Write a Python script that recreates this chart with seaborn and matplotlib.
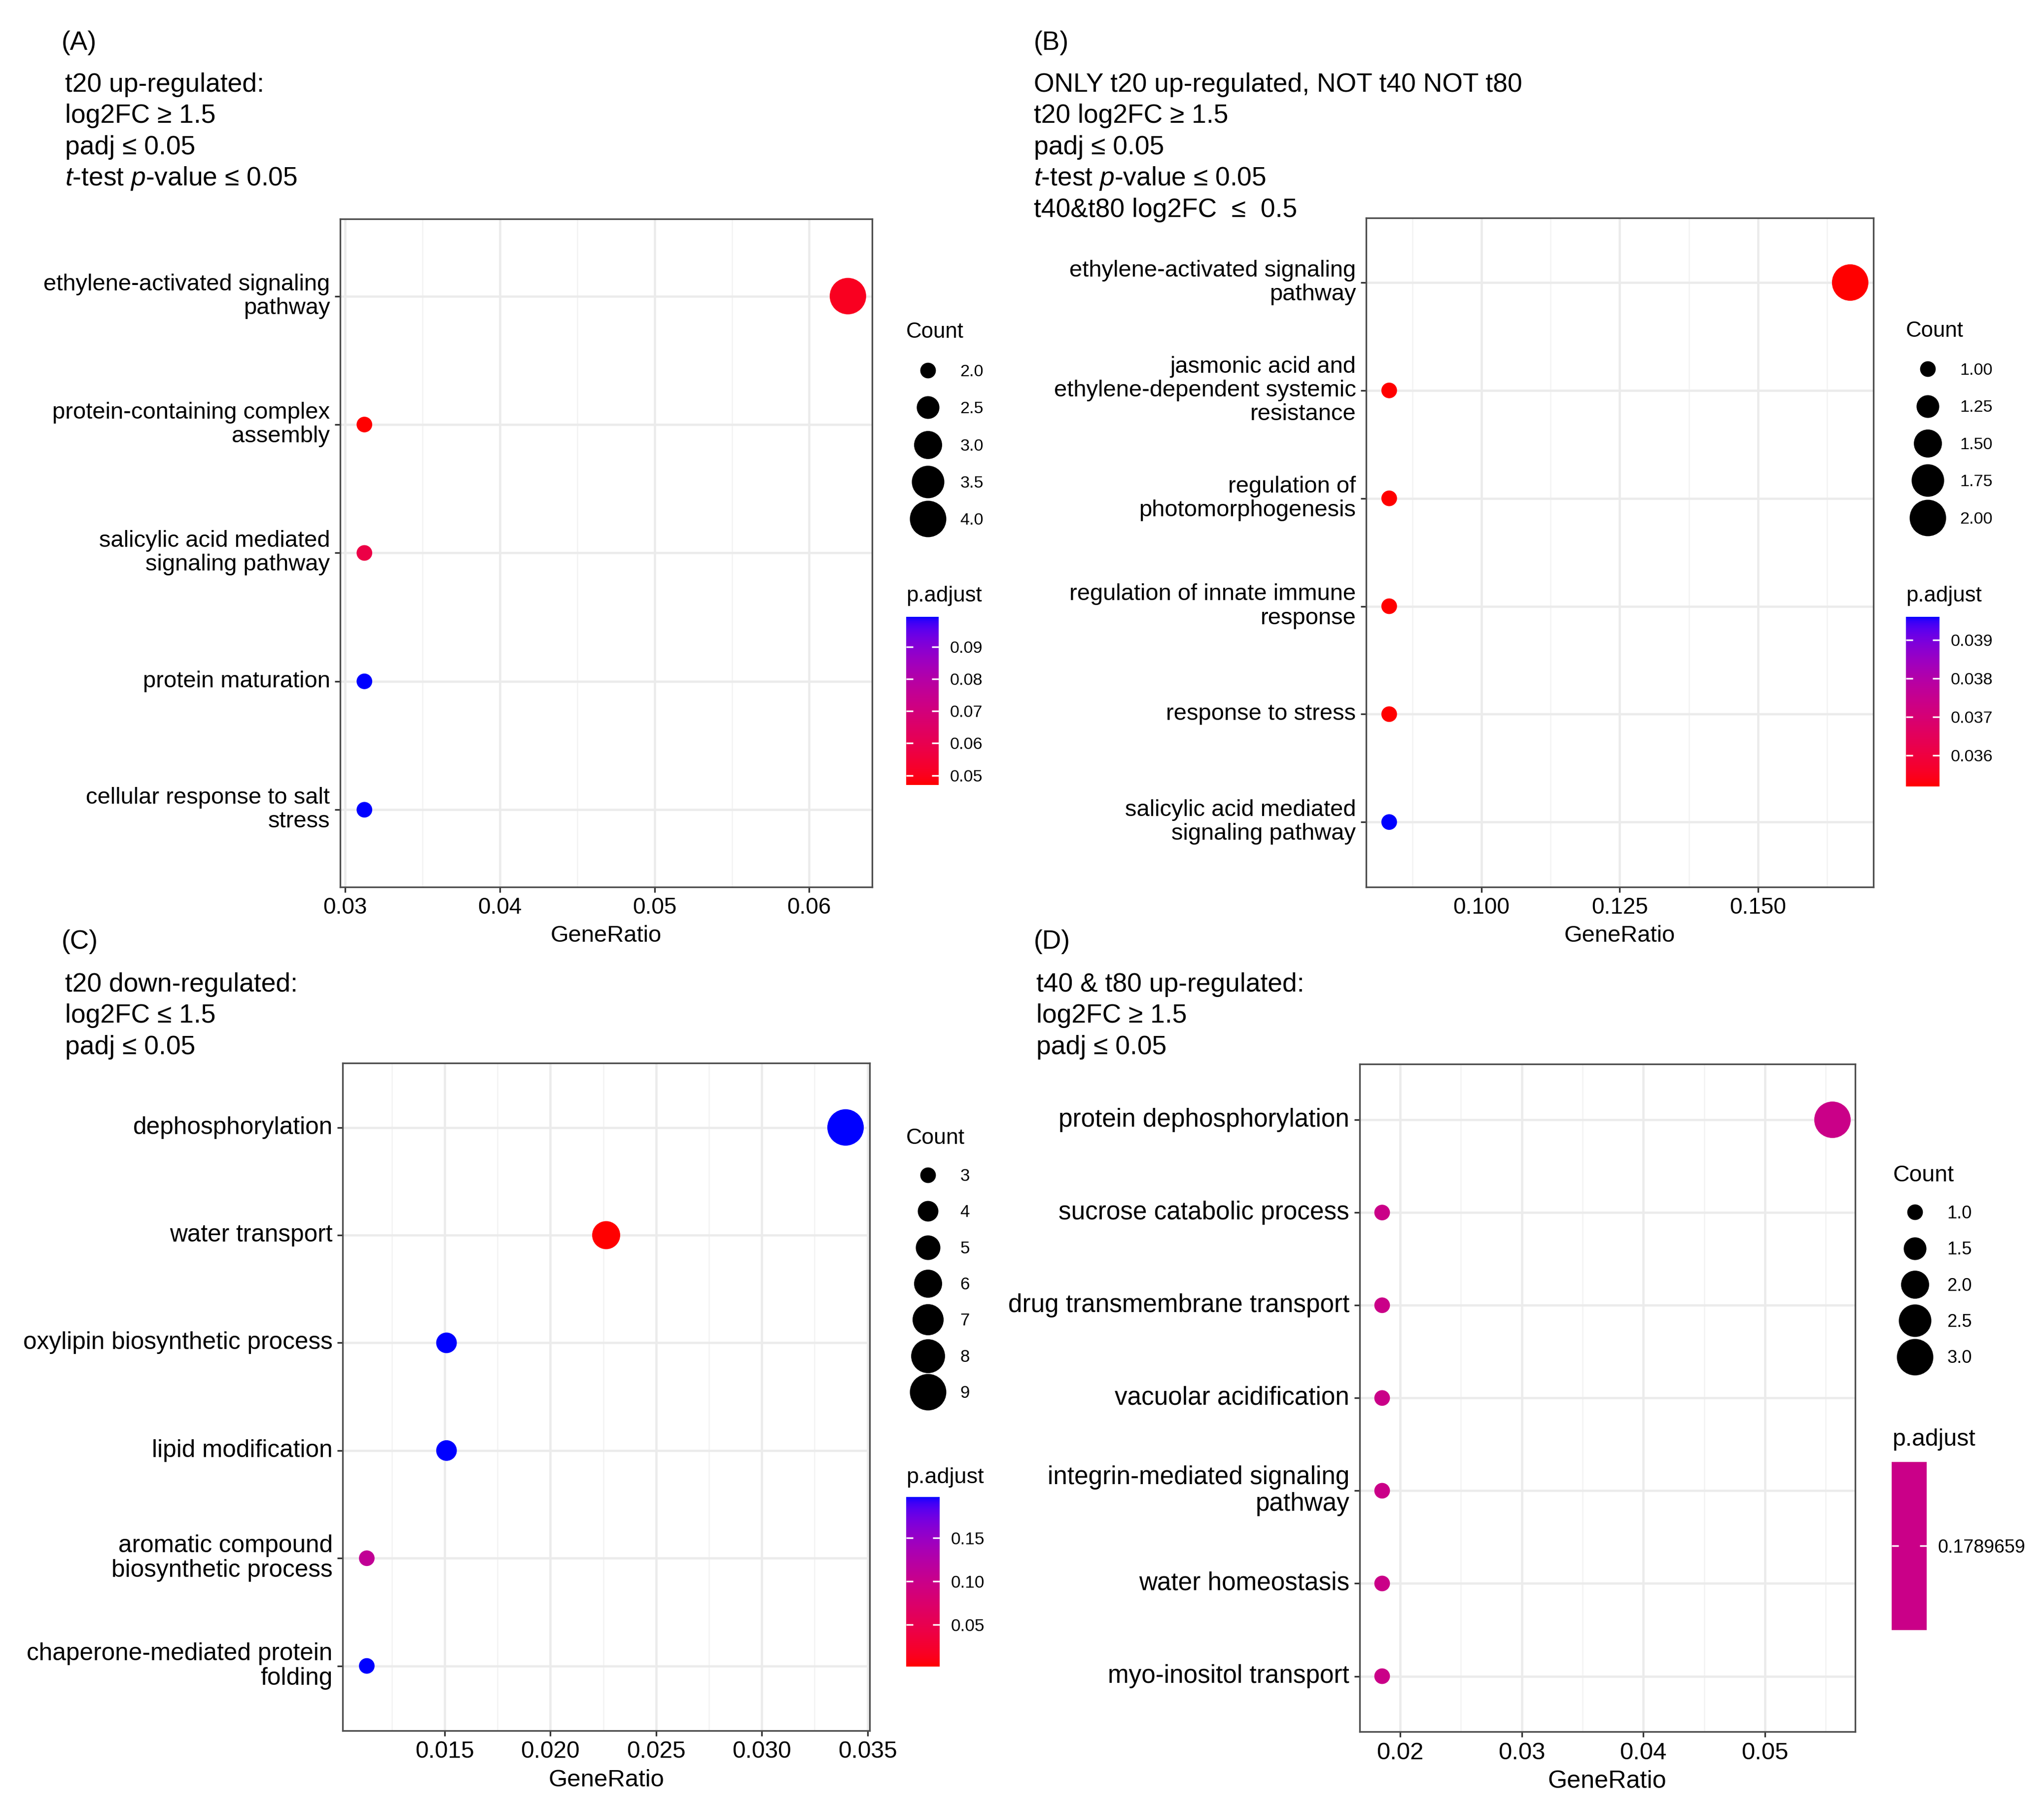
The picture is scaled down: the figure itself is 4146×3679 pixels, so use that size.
import numpy as np
import pandas as pd
import matplotlib
matplotlib.use("Agg")
import matplotlib.pyplot as plt
import seaborn as sns
from matplotlib.colors import ListedColormap, Normalize
from matplotlib.ticker import MultipleLocator, AutoMinorLocator, FormatStrFormatter
from matplotlib.lines import Line2D
from matplotlib.cm import ScalarMappable

# ---------------- data ----------------
descA = ["ethylene-activated signaling\npathway", "protein-containing complex\nassembly",
         "salicylic acid mediated\nsignaling pathway", "protein maturation",
         "cellular response to salt\nstress"]
ratioA = [0.0625, 0.03125, 0.03125, 0.03125, 0.03125]
countA = [4, 2, 2, 2, 2]
padjA = [0.0505, 0.0470, 0.0580, 0.0993, 0.0993]
legA_vals = [2.0, 2.5, 3.0, 3.5, 4.0]
legA_labels = ["2.0", "2.5", "3.0", "3.5", "4.0"]
cbA_ticks = [0.05, 0.06, 0.07, 0.08, 0.09]
titleA = ["t20 up-regulated:", "log2FC \u2265 1.5", "padj \u2264 0.05",
          "$\\mathit{t}$-test $\\mathit{p}$-value \u2264 0.05"]

descB = ["ethylene-activated signaling\npathway",
         "jasmonic acid and\nethylene-dependent systemic\nresistance",
         "regulation of\nphotomorphogenesis", "regulation of innate immune\nresponse",
         "response to stress", "salicylic acid mediated\nsignaling pathway"]
ratioB = [0.16667, 0.08333, 0.08333, 0.08333, 0.08333, 0.08333]
countB = [2, 1, 1, 1, 1, 1]
padjB = [0.0352, 0.0352, 0.0352, 0.0352, 0.0352, 0.0396]
legB_vals = [1.00, 1.25, 1.50, 1.75, 2.00]
legB_labels = ["1.00", "1.25", "1.50", "1.75", "2.00"]
cbB_ticks = [0.036, 0.037, 0.038, 0.039]
titleB = ["ONLY t20 up-regulated, NOT t40 NOT t80", "t20 log2FC \u2265 1.5", "padj \u2264 0.05",
          "$\\mathit{t}$-test $\\mathit{p}$-value \u2264 0.05", "t40&t80 log2FC  \u2264  0.5"]

descC = ["dephosphorylation", "water transport", "oxylipin biosynthetic process",
         "lipid modification", "aromatic compound\nbiosynthetic process",
         "chaperone-mediated protein\nfolding"]
ratioC = [0.03396, 0.02264, 0.01509, 0.01509, 0.01132, 0.01132]
countC = [9, 6, 4, 4, 3, 3]
padjC = [0.197, 0.002, 0.197, 0.197, 0.110, 0.197]
legC_vals = [3, 4, 5, 6, 7, 8, 9]
legC_labels = ["3", "4", "5", "6", "7", "8", "9"]
cbC_ticks = [0.05, 0.10, 0.15]
titleC = ["t20 down-regulated:", "log2FC \u2264 1.5", "padj \u2264 0.05"]

descD = ["protein dephosphorylation", "sucrose catabolic process", "drug transmembrane transport",
         "vacuolar acidification", "integrin-mediated signaling\npathway", "water homeostasis",
         "myo-inositol transport"]
ratioD = [0.05556, 0.01852, 0.01852, 0.01852, 0.01852, 0.01852, 0.01852]
countD = [3, 1, 1, 1, 1, 1, 1]
padjD = [0.1789659, 0.1789659, 0.1789659, 0.1789659, 0.1789659, 0.1789659, 0.1789659]
legD_vals = [1.0, 1.5, 2.0, 2.5, 3.0]
legD_labels = ["1.0", "1.5", "2.0", "2.5", "3.0"]
cbD_ticks = [0.1789659]
titleD = ["t40 & t80 up-regulated:", "log2FC \u2265 1.5", "padj \u2264 0.05"]

# ---------------- style ----------------
plt.rcParams["font.family"] = ["Liberation Sans", "DejaVu Sans"]
plt.rcParams["mathtext.fontset"] = "custom"
plt.rcParams["mathtext.rm"] = "Liberation Sans"
plt.rcParams["mathtext.it"] = "Liberation Sans:italic"

SIZES = (58, 315)
W, H = 1568.0, 1391.0


def fx(p):
    return p / W


def fy(p):
    return 1 - p / H


# ggplot-like red->blue gradient interpolated in CIELAB
def srgb_to_lab(rgb):
    rgb = np.asarray(rgb, float)
    lin = np.where(rgb <= 0.04045, rgb / 12.92, ((rgb + 0.055) / 1.055) ** 2.4)
    M = np.array([[0.4124, 0.3576, 0.1805], [0.2126, 0.7152, 0.0722], [0.0193, 0.1192, 0.9505]])
    xyz = M @ lin / np.array([0.95047, 1.0, 1.08883])
    d = 6 / 29
    f = np.where(xyz > d ** 3, np.cbrt(xyz), xyz / (3 * d * d) + 4 / 29)
    return np.array([116 * f[1] - 16, 500 * (f[0] - f[1]), 200 * (f[1] - f[2])])


def lab_to_srgb(lab):
    L, a, b = lab
    fyv = (L + 16) / 116
    fxv = fyv + a / 500
    fzv = fyv - b / 200
    d = 6 / 29
    f = np.array([fxv, fyv, fzv])
    xyz = np.where(f > d, f ** 3, 3 * d * d * (f - 4 / 29)) * np.array([0.95047, 1.0, 1.08883])
    Minv = np.linalg.inv(np.array([[0.4124, 0.3576, 0.1805], [0.2126, 0.7152, 0.0722], [0.0193, 0.1192, 0.9505]]))
    lin = np.clip(Minv @ xyz, 0, 1)
    rgb = np.where(lin <= 0.0031308, lin * 12.92, 1.055 * lin ** (1 / 2.4) - 0.055)
    return np.clip(rgb, 0, 1)


lab_lo = srgb_to_lab([1, 0, 0])
lab_hi = srgb_to_lab([0, 0, 1])
rb_cmap = ListedColormap([lab_to_srgb((1 - t) * lab_lo + t * lab_hi) for t in np.linspace(0, 1, 256)])
mid_cmap = ListedColormap([lab_to_srgb(0.5 * lab_lo + 0.5 * lab_hi)])

fig = plt.figure(figsize=(4146 / 300, 3679 / 300), dpi=300)


def panel(rect, desc, ratio, count, padj, cmap, hue_norm, xstep, xfmt, ysize, xsize):
    ax = fig.add_axes(rect)
    df = pd.DataFrame({"Description": desc, "GeneRatio": ratio, "Count": count, "p.adjust": padj})
    sns.scatterplot(data=df, x="GeneRatio", y="Description", hue="p.adjust", size="Count",
                    palette=cmap, hue_norm=hue_norm, sizes=SIZES,
                    size_norm=(min(count), max(count)), legend=False, linewidth=0,
                    ax=ax, zorder=3)
    n = len(desc)
    ax.set_ylim(n - 1 + 0.6, -0.6)
    lo, hi = min(ratio), max(ratio)
    pad = 0.05 * (hi - lo)
    ax.set_xlim(lo - pad, hi + pad)
    ax.xaxis.set_major_locator(MultipleLocator(xstep))
    ax.xaxis.set_minor_locator(AutoMinorLocator(2))
    ax.xaxis.set_major_formatter(FormatStrFormatter(xfmt))
    ax.set_axisbelow(True)
    ax.grid(which="major", color="#EBEBEB", linewidth=1.1)
    ax.grid(which="minor", axis="x", color="#F3F3F3", linewidth=0.6)
    for s in ax.spines.values():
        s.set_color("#4D4D4D")
        s.set_linewidth(0.8)
    ax.tick_params(axis="both", which="major", length=2.75, width=0.8, color="#333333",
                   pad=2.2, labelcolor="black")
    ax.tick_params(axis="x", which="minor", length=0)
    ax.tick_params(axis="x", labelsize=xsize)
    ax.tick_params(axis="y", labelsize=ysize)
    plt.setp(ax.get_yticklabels(), va="center", linespacing=1.12)
    ax.set_xlabel("GeneRatio", fontsize=xsize + 0.3, labelpad=3)
    ax.set_ylabel("")
    return ax


def size_legend(vals, labels, count, x, ytop, scale=1.0, spacing=1.32):
    smin, smax = SIZES
    lo, hi = min(count), max(count)
    handles = [Line2D([], [], ls="", marker="o", color="black", markeredgewidth=0,
                      markersize=np.sqrt(smin + (v - lo) / (hi - lo) * (smax - smin)))
               for v in vals]
    fs = 8.2 * scale
    fig.legend(handles, labels, title="Count", loc="upper left",
               bbox_to_anchor=(x, ytop), bbox_transform=fig.transFigure, frameon=False,
               borderpad=0, borderaxespad=0, handlelength=2.6 * 8.2 / fs,
               handletextpad=0.62 * 8.2 / fs, labelspacing=spacing * 8.2 / fs,
               fontsize=fs, title_fontsize=10.5 * scale, alignment="left")


def color_bar(x0, x1, y0, y1, cmap, norm, ticks, fmt, tx, ty, scale=1.0):
    cax = fig.add_axes([fx(x0), fy(y1), (x1 - x0) / W, (y1 - y0) / H])
    cb = fig.colorbar(ScalarMappable(norm=norm, cmap=cmap), cax=cax, ticks=ticks, format=fmt)
    cb.outline.set_visible(False)
    cax.tick_params(axis="y", which="major", direction="in", length=3.3, width=0.8,
                    color="white", left=True, right=True, labelleft=False, labelright=True,
                    labelsize=8.2 * scale, pad=5.4, labelcolor="black")
    cax.tick_params(axis="y", which="minor", length=0)
    fig.text(fx(tx), fy(ty), "p.adjust", fontsize=10.5 * scale, va="center", ha="left")


def titles(letter, lines, x_letter, y_letter, x_lines, y_first):
    fig.text(fx(x_letter), fy(y_letter), letter, fontsize=12.8, va="center", ha="left")
    for i, t in enumerate(lines):
        fig.text(fx(x_lines), fy(y_first + 24 * i), t, fontsize=12.8, va="center", ha="left")


# ---------------- Panel A ----------------
normA = Normalize(min(padjA), max(padjA))
panel([fx(261), fy(680), (669 - 261) / W, (680 - 168) / H], descA, ratioA, countA, padjA,
      rb_cmap, normA, 0.01, "%.2f", 11.3, 11.0)
titles("(A)", titleA, 47, 33, 50, 65)
size_legend(legA_vals, legA_labels, countA, fx(695), fy(247), 1.0, 1.30)
color_bar(695, 720, 473, 602, rb_cmap, normA, cbA_ticks, "%.2f", 695, 457)

# ---------------- Panel B ----------------
normB = Normalize(min(padjB), max(padjB))
panel([fx(1048), fy(680), (1437 - 1048) / W, (680 - 167) / H], descB, ratioB, countB, padjB,
      rb_cmap, normB, 0.025, "%.3f", 11.3, 11.0)
titles("(B)", titleB, 793, 33, 793, 65)
size_legend(legB_vals, legB_labels, countB, fx(1462), fy(246), 1.0, 1.30)
color_bar(1462, 1488, 473, 603, rb_cmap, normB, cbB_ticks, "%.3f", 1462, 457)

# ---------------- Panel C ----------------
normC = Normalize(min(padjC), max(padjC))
panel([fx(263), fy(1327), (667 - 263) / W, (1327 - 815) / H], descC, ratioC, countC, padjC,
      rb_cmap, normC, 0.005, "%.3f", 11.9, 11.5)
titles("(C)", titleC, 47, 722, 50, 755)
size_legend(legC_vals, legC_labels, countC, fx(695), fy(865), 1.02, 1.18)
color_bar(695, 721, 1148, 1278, rb_cmap, normC, cbC_ticks, "%.2f", 695, 1133, 1.03)

# ---------------- Panel D ----------------
normD = Normalize(min(padjD) - 1e-6, max(padjD) + 1e-6)
panel([fx(1043), fy(1328), (1423 - 1043) / W, (1328 - 816) / H], descD, ratioD, countD, padjD,
      mid_cmap, normD, 0.01, "%.2f", 12.3, 11.8)
titles("(D)", titleD, 793, 722, 795, 755)
size_legend(legD_vals, legD_labels, countD, fx(1452), fy(893), 1.06, 1.12)
color_bar(1451, 1478, 1121, 1250, mid_cmap, normD, cbD_ticks, "%.7f", 1452, 1104, 1.1)

fig.savefig("out.png", dpi=300, facecolor="white")
